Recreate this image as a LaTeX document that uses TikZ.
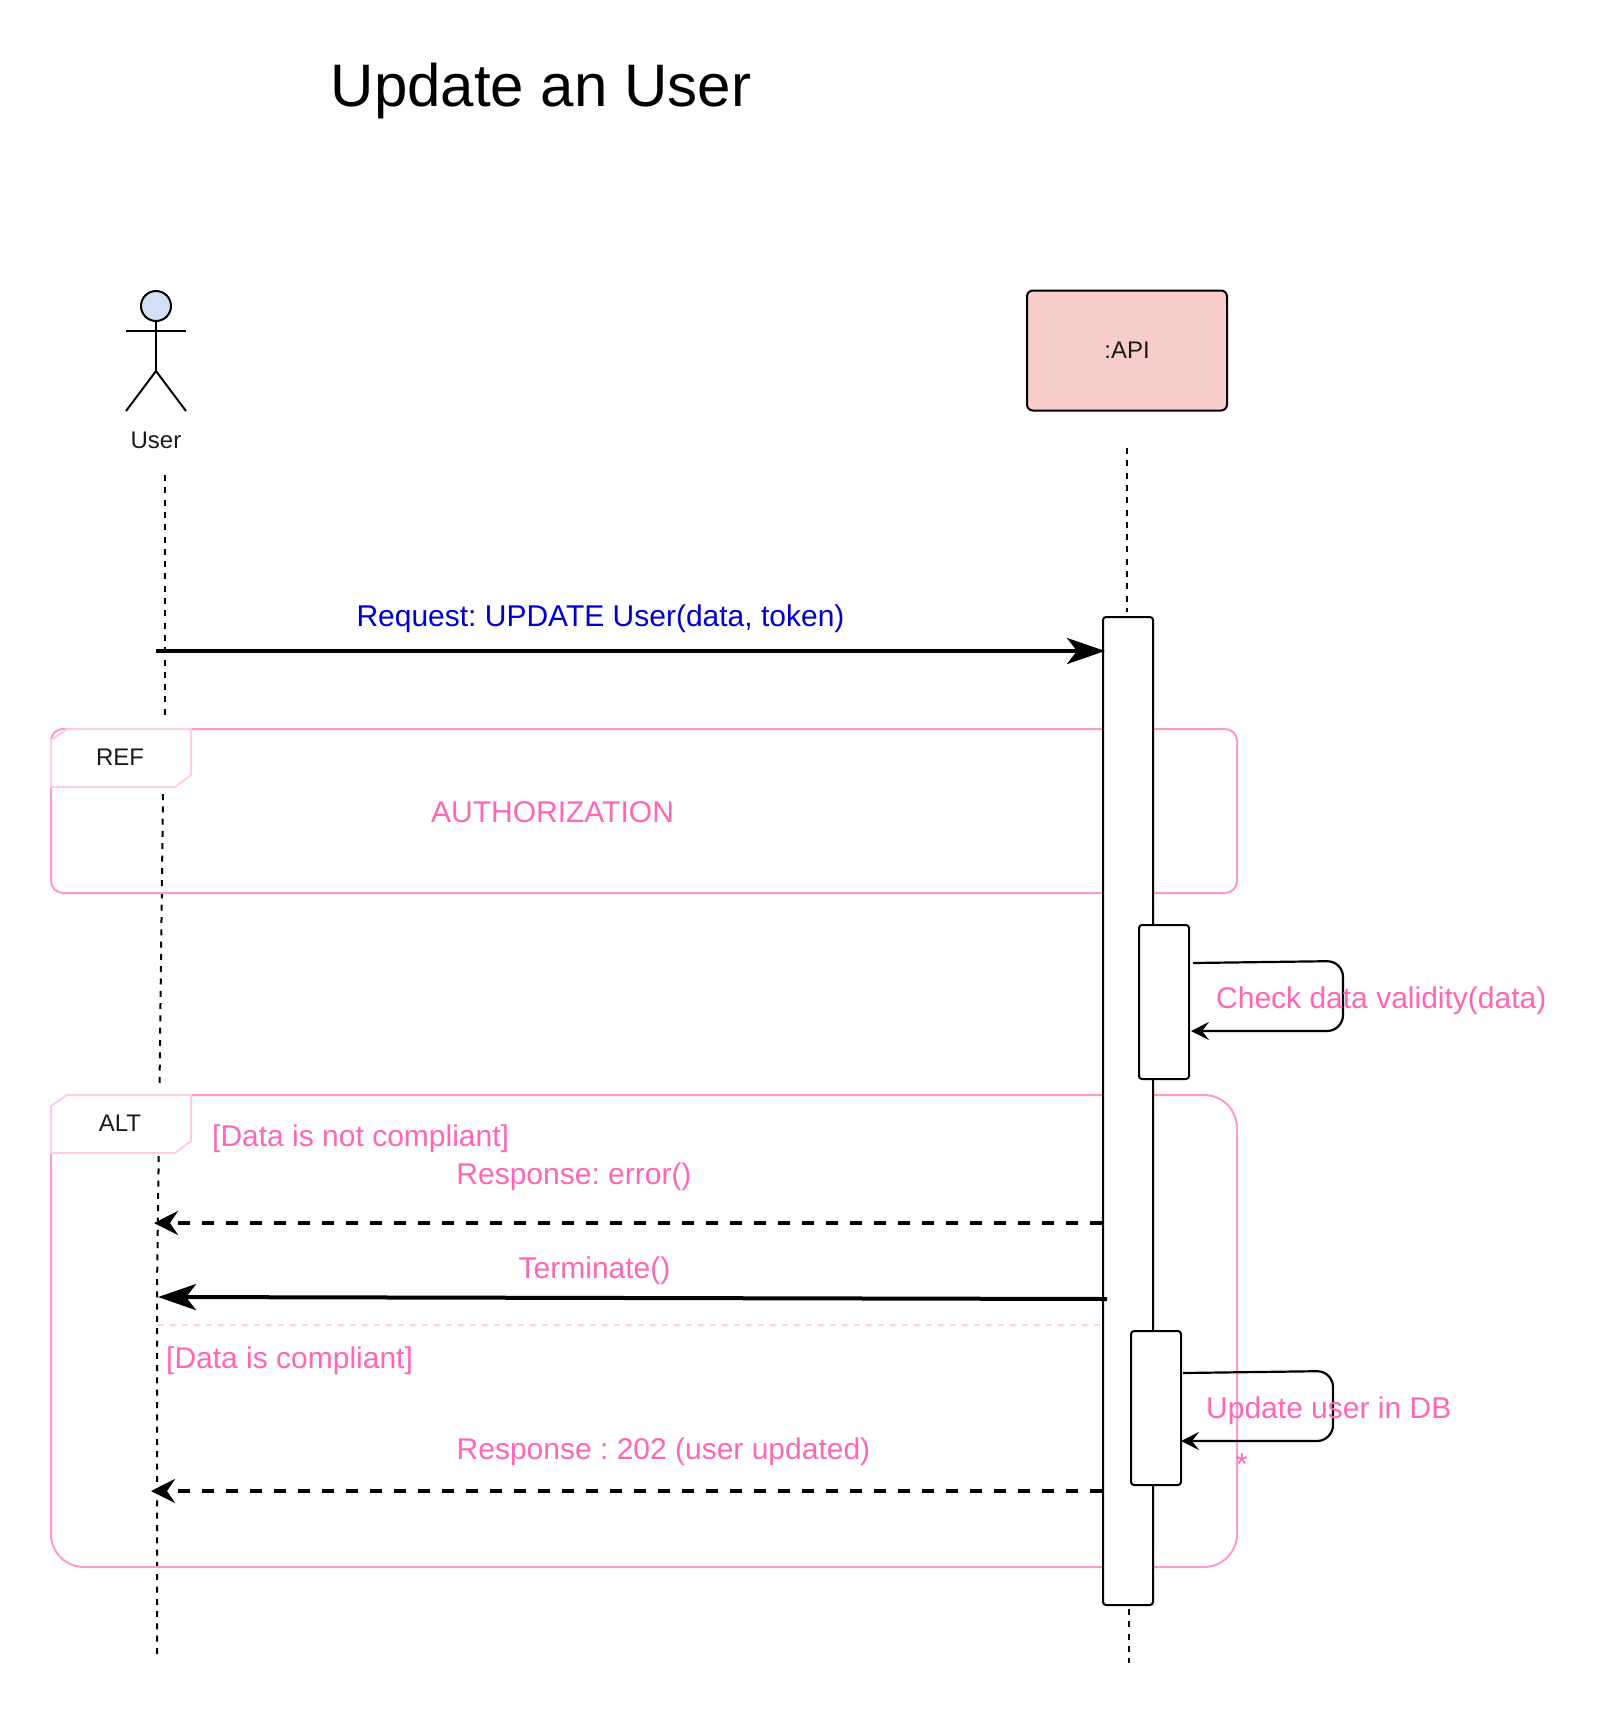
\documentclass[tikz,border=0pt]{standalone}
\usepackage{fontspec}
\setmainfont{Liberation Sans}
\usetikzlibrary{arrows.meta}
\definecolor{pinktxt}{HTML}{FF66B3}
\definecolor{framepink}{HTML}{FF99CC}
\definecolor{tagpink}{HTML}{FFCCE6}
\definecolor{bluetxt}{HTML}{0000CC}
\definecolor{apifill}{HTML}{F8CECC}
\definecolor{headfill}{HTML}{D4E1F5}
\definecolor{labeltxt}{HTML}{1A1A1A}
\tikzset{
  blk/.style={draw=black,line width=2pt},
  lifeline/.style={black,line width=2pt,dash pattern=on 6pt off 6.3pt},
  activation/.style={draw=black,fill=white,line width=2pt,rounded corners=3pt,minimum width=50pt,inner sep=0pt},
  framebox/.style={draw=framepink,line width=2pt,inner sep=0pt},
  tagshape/.style={draw=tagpink,fill=white,line width=2pt},
  msgthick/.style={black,line width=4pt,-{Stealth[length=38pt,width=26pt,inset=10pt]}},
  msgdash/.style={black,line width=4pt,dash pattern=on 12pt off 12pt,-{Stealth[length=24pt,width=24pt,inset=8pt]}},
  selfmsg/.style={black,line width=2.2pt,rounded corners=16pt,-{Stealth[length=18pt,width=18pt,inset=7pt]}},
  pinklabel/.style={text=pinktxt,font=\fontsize{30}{36}\selectfont,inner sep=0pt,text height=21.5pt,text depth=6.5pt},
  tagtext/.style={text=labeltxt,font=\fontsize{24}{28}\selectfont,inner sep=0pt}
}
\begin{document}
\frenchspacing
\begin{tikzpicture}[x=1pt,y=-1pt]
\useasboundingbox (0,0) rectangle (1608,1716);
% title
\node[inner sep=0pt,font=\fontsize{60}{70}\selectfont,text=black] (title) at (541,90.5) {Update an User};
% lifeline coordinates
\coordinate (uA) at (165,475);
\coordinate (uB) at (165,720);
\coordinate (uC) at (163,794);
\coordinate (uC2) at (159.5,1088);
\coordinate (uC3) at (158.7,1156);
\coordinate (uD) at (157,1290);
\coordinate (uE) at (157,1658);
\coordinate (aA) at (1127,448);
\coordinate (aB) at (1127,612);
\coordinate (aC) at (1129,1609);
\coordinate (aD) at (1129,1663);
\draw[lifeline] (uA) -- (uB);
\draw[lifeline] (uC) -- (uC2);
\draw[lifeline] (uC3) -- (uD) -- (uE);
\draw[lifeline] (aA) -- (aB);
\draw[lifeline] (aC) -- (aD);
% actor
\node[circle,blk,fill=headfill,minimum size=30pt,inner sep=0pt] (head) at (156,306) {};
\coordinate (armL) at (126,331);
\coordinate (armR) at (186,331);
\coordinate (hip) at (156,371);
\coordinate (footL) at (126,411);
\coordinate (footR) at (186,411);
\draw[blk] (head.south) -- (hip);
\draw[blk] (armL) -- (armR);
\draw[blk] (footL) -- (hip) -- (footR);
\node[tagtext] (userlabel) at (156,440) {User};
% API box
\node[draw=black,fill=apifill,line width=2pt,rounded corners=6pt,minimum width=200pt,minimum height=120pt,inner sep=0pt,text=labeltxt,font=\fontsize{24}{28}\selectfont] (api) at (1127,350.5) {:API};
% frames
\node[framebox,rounded corners=12pt,minimum width=1186pt,minimum height=164pt] (refframe) at (644,811) {};
\node[framebox,rounded corners=33pt,minimum width=1186pt,minimum height=472pt] (altframe) at (644,1331) {};
% tags
\draw[tagshape] (51,740) -- (67,729) -- (191,729) -- (191,775) -- (175,787) -- (51,787) -- cycle;
\node[tagtext] (reflabel) at (120,757) {REF};
\draw[tagshape] (51,1106) -- (67,1095) -- (191,1095) -- (191,1141) -- (175,1153) -- (51,1153) -- cycle;
\node[tagtext] (altlabel) at (120,1123) {ALT};
% divider
\coordinate (divL) at (158,1325);
\coordinate (divR) at (1103,1325);
\draw[tagpink,line width=2pt,dash pattern=on 6pt off 6pt] (divL) -- (divR);
% activations
\node[activation,minimum height=988pt] (main) at (1128,1111) {};
\node[activation,minimum height=154pt] (chk) at (1164,1002) {};
\node[activation,minimum height=154pt] (upd) at (1156,1408) {};
% messages
\coordinate (reqS) at (156,651);
\coordinate (reqE) at (1105,651);
\draw[msgthick] (reqS) -- (reqE);
\coordinate (errE) at (154,1223);
\draw[msgdash] (main.west |- errE) -- (errE);
\coordinate (termS) at (1107,1299);
\coordinate (termE) at (158,1297);
\draw[msgthick] (termS) -- (termE);
\coordinate (okE) at (151,1491);
\draw[msgdash] (main.west |- okE) -- (okE);
\coordinate (c1) at (1193,963);
\coordinate (c2) at (1343,961);
\coordinate (c3) at (1343,1031);
\coordinate (c4) at (1191,1031);
\draw[selfmsg] (c1) -- (c2) -- (c3) -- (c4);
\coordinate (d1) at (1183,1373);
\coordinate (d2) at (1333,1371);
\coordinate (d3) at (1333,1441);
\coordinate (d4) at (1181,1441);
\draw[selfmsg] (d1) -- (d2) -- (d3) -- (d4);
% labels
\node[pinklabel,text=bluetxt] (reqlabel) at (600.5,618.5) {Request: UPDATE User(data, token)};
\node[pinklabel] (authlabel) at (552.5,814.5) {AUTHORIZATION};
\node[pinklabel,anchor=west] (chklabel) at (1216,1001) {Check data validity(data)};
\node[pinklabel,anchor=west] (notlabel) at (212,1139) {[Data is not compliant]};
\node[pinklabel] (errlabel) at (574,1176.5) {Response: error()};
\node[pinklabel] (termlabel) at (594.5,1270.5) {Terminate()};
\node[pinklabel,anchor=west] (oklabel) at (166,1360.5) {[Data is compliant]};
\node[pinklabel,anchor=west] (updlabel) at (1206,1410.5) {Update user in DB};
\node[pinklabel] (resplabel) at (663.5,1452) {Response : 202 (user updated)};
\node[pinklabel] (star) at (1242,1467) {*};
\end{tikzpicture}
\end{document}
